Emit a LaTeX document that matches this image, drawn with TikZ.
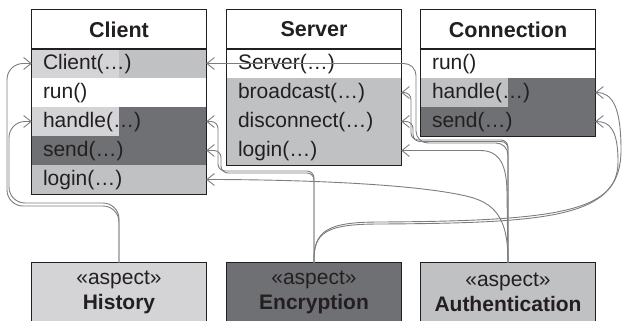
\documentclass[tikz,border=0pt]{standalone}
\usepackage{fontspec}
\setmainfont{Liberation Sans}
\usetikzlibrary{arrows.meta}
\definecolor{cLight}{HTML}{D4D4D6}
\definecolor{cMed}{HTML}{C0C1C3}
\definecolor{cDark}{HTML}{6F7073}
\definecolor{cLine}{HTML}{231F20}
\definecolor{cConn}{HTML}{7C7D80}
\begin{document}
\begin{tikzpicture}[x=1pt,y=-1pt,
  titlebox/.style={minimum width=174pt, minimum height=39pt, inner sep=0pt,
    font=\fontsize{21.5}{24}\selectfont\bfseries, fill=white, text=cLine},
  rowbox/.style={minimum height=29pt, text width=152pt, inner xsep=11pt, inner ysep=0pt,
    text height=16pt, text depth=3.5pt, align=left, font=\fontsize{21}{24}\selectfont, text=cLine},
  splitfill/.style={path picture={\fill[#1] (path picture bounding box.north west) rectangle
    ([xshift=87pt]path picture bounding box.south west);}},
  aspectbox/.style={minimum width=174pt, minimum height=58pt, inner sep=0pt, align=center,
    font=\fontsize{21}{25}\selectfont, text=cLine},
  boxline/.style={draw=cLine, line width=1.2pt},
  sepline/.style={draw=cLine, line width=1.5pt},
  conn/.style={draw=cConn, line width=0.9pt,
    -{Straight Barb[length=7.5pt,width=12pt,line width=0.9pt]}}
]
\useasboundingbox (0,0) rectangle (623,321);

% ---------- Client ----------
\node[titlebox] (clT) at (119,29.5) {Client};
\node[rowbox, fill=cMed, splitfill=cLight] (cl1) at (119,63.5) {Client(…)};
\node[rowbox, fill=white] (cl2) at (119,92.5) {run()};
\node[rowbox, fill=cDark, splitfill=cLight] (cl3) at (119,121.5) {handle(…)};
\node[rowbox, fill=cDark] (cl4) at (119,150.5) {send(…)};
\node[rowbox, fill=cMed] (cl5) at (119,179.5) {login(…)};
\draw[boxline] (clT.north west) rectangle (cl5.south east);
\draw[sepline] (clT.south west) -- (clT.south east);

% ---------- Server ----------
\node[titlebox] (svT) at (314,29.5) {Server};
\node[rowbox, fill=white] (sv1) at (314,63.5) {Server(…)};
\node[rowbox, fill=cMed] (sv2) at (314,92.5) {broadcast(…)};
\node[rowbox, fill=cMed] (sv3) at (314,121.5) {disconnect(…)};
\node[rowbox, fill=cMed] (sv4) at (314,150.5) {login(…)};
\draw[boxline] (svT.north west) rectangle (sv4.south east);
\draw[sepline] (svT.south west) -- (svT.south east);

% ---------- Connection ----------
\node[titlebox] (coT) at (508,29.5) {Connection};
\node[rowbox, fill=white] (co1) at (508,63.5) {run()};
\node[rowbox, fill=cDark, splitfill=cMed] (co2) at (508,92.5) {handle(…)};
\node[rowbox, fill=cDark] (co3) at (508,121.5) {send(…)};
\draw[boxline] (coT.north west) rectangle (co3.south east);
\draw[sepline] (coT.south west) -- (coT.south east);

% ---------- Aspects ----------
\node[aspectbox, fill=cLight] (hist) at (119,292) {«aspect»\\\textbf{History}};
\node[aspectbox, fill=cDark] (enc) at (314,292) {«aspect»\\\textbf{Encryption}};
\node[aspectbox, fill=cMed] (auth) at (508,292) {«aspect»\\\textbf{Authentication}};
\foreach \n in {hist,enc,auth}
  \draw[boxline] (\n.south west) -- (\n.north west) -- (\n.north east) -- (\n.south east);

% ---------- History connectors ----------
\draw[conn, rounded corners=16pt] (hist.north) |- (7,206) |- (cl1.west);
\draw[conn, rounded corners=16pt] (hist.north) |- (9,203) |- (cl3.west);

% ---------- Encryption connectors ----------
\draw[conn, rounded corners=7pt] (enc.north) |- (218,171) |- (cl3.east);
\draw[conn, rounded corners=7pt] (enc.north) |- (221,173) |- (cl4.east);
\draw[conn] (enc.north) .. controls (313,232) and (326,224) .. (380,224)
  .. controls (560,223) and (621,216) .. (621,150)
  .. controls (621,106) and (612,92.5) .. (co2.east);
\draw[conn] (enc.north) .. controls (313,230) and (328,222) .. (380,222)
  .. controls (555,221) and (618,212) .. (618,162)
  .. controls (618,130) and (610,121.5) .. (co3.east);

% ---------- Authentication connectors ----------
\draw[conn, rounded corners=12pt] (auth.north) |- (416,143) |- (cl1.east);
\draw[conn, rounded corners=7pt] (auth.north) |- (411,140) |- (sv2.east);
\draw[conn, rounded corners=7pt] (auth.north) |- (413,141.5) |- (sv3.east);
\draw[conn] (auth.north) -- (507,195) .. controls (507,165) and (500,150.5) .. (480,150.5) -- (sv4.east);
\draw[conn] (auth.north) .. controls (508,225) and (500,205) .. (470,197)
  .. controls (420,184) and (300,179.5) .. (cl5.east);
\end{tikzpicture}
\end{document}
